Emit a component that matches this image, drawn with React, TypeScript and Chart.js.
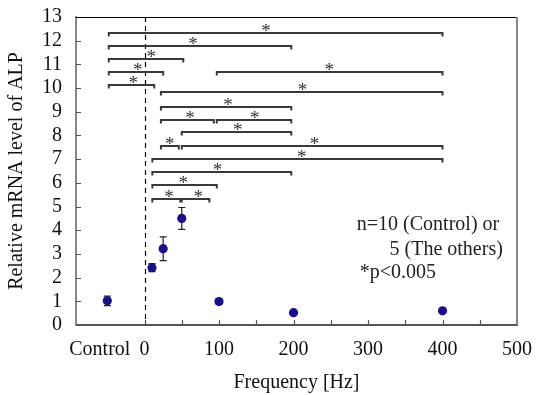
import React, { useEffect, useRef } from "react";
import { Chart, registerables } from "chart.js";

Chart.register(...registerables);

// ---- data ----
const frequencies = [-50, 10, 25, 50, 100, 200, 400]; // -50 = Control position
const means = [1.02, 2.42, 3.22, 4.5, 0.99, 0.52, 0.6];
const errors = [0.2, 0.17, 0.5, 0.46, 0.1, 0.05, 0.05];

const xTickValues = [-60, 0, 100, 200, 300, 400, 500];
const xTickLabels = ["Control", "0", "100", "200", "300", "400", "500"];
const xMinorTicks = [0, 50, 100, 150, 200, 250, 300, 350, 400, 450, 500];
const yTickValues = [0, 1, 2, 3, 4, 5, 6, 7, 8, 9, 10, 11, 12, 13];

// significance brackets (data coordinates)
const bracketStart = [-48, -48, -48, -48, -48, 97, 22, 22, 22, 97, 50, 22, 50, 10.5, 10.5, 10.5, 10.5, 50];
const bracketEnd = [400, 197, 52, 25, 13, 400, 400, 197, 93, 197, 197, 46, 400, 400, 197, 97, 48, 87];
const bracketLevel = [12.31, 11.79, 11.23, 10.69, 10.13, 10.69, 9.85, 9.21, 8.65, 8.65, 8.13, 7.55, 7.55, 7.0, 6.45, 5.92, 5.3, 5.3];
const starX = [163, 65, 9, -9, -15, 248, 212, 112, 61, 148, 125, 34, 228, 211, 98, 52, 33, 72];

const noteLines = ["n=10 (Control) or", "5 (The others)", "*p<0.005"];
const noteX = [285, 481, 289];
const noteY = [4.22, 3.17, 2.2];
const noteAlign = ["left", "right", "left"];

const FONT = "Liberation Serif, Times New Roman, serif";
const FS = 20;

const overlayPlugin = {
  id: "overlay",
  beforeDatasetsDraw(chart: any) {
    const { ctx, chartArea } = chart;
    const xs = chart.scales.x;
    const ys = chart.scales.y;
    ctx.save();
    // dashed line at 0 Hz
    ctx.strokeStyle = "#000";
    ctx.lineWidth = 1.2;
    ctx.setLineDash([5, 4]);
    const x0 = Math.round(xs.getPixelForValue(0)) + 0.5;
    ctx.beginPath();
    ctx.moveTo(x0, chartArea.top);
    ctx.lineTo(x0, chartArea.bottom);
    ctx.stroke();
    ctx.setLineDash([]);
    // error bars
    ctx.strokeStyle = "#222";
    ctx.lineWidth = 1.2;
    for (let i = 0; i < frequencies.length; i++) {
      const px = xs.getPixelForValue(frequencies[i]);
      const yt = ys.getPixelForValue(means[i] + errors[i]);
      const yb = ys.getPixelForValue(means[i] - errors[i]);
      ctx.beginPath();
      ctx.moveTo(px, yt);
      ctx.lineTo(px, yb);
      ctx.moveTo(px - 3.5, yt);
      ctx.lineTo(px + 3.5, yt);
      ctx.moveTo(px - 3.5, yb);
      ctx.lineTo(px + 3.5, yb);
      ctx.stroke();
    }
    ctx.restore();
  },
  afterDatasetsDraw(chart: any) {
    const { ctx, chartArea } = chart;
    const xs = chart.scales.x;
    const ys = chart.scales.y;
    ctx.save();
    // inner tick marks
    ctx.strokeStyle = "#555";
    ctx.lineWidth = 1.2;
    ctx.beginPath();
    for (const v of xMinorTicks) {
      const px = Math.round(xs.getPixelForValue(v)) + 0.5;
      ctx.moveTo(px, chartArea.bottom);
      ctx.lineTo(px, chartArea.bottom - 5);
    }
    for (const v of yTickValues) {
      const py = Math.round(ys.getPixelForValue(v)) + 0.5;
      ctx.moveTo(chartArea.left, py);
      ctx.lineTo(chartArea.left + 5, py);
    }
    ctx.stroke();
    // top and right borders
    ctx.strokeStyle = "#000";
    ctx.lineWidth = 1.2;
    ctx.beginPath();
    ctx.moveTo(chartArea.left, chartArea.top + 0.5);
    ctx.lineTo(chartArea.right, chartArea.top + 0.5);
    ctx.stroke();
    ctx.strokeStyle = "#888";
    ctx.lineWidth = 2;
    ctx.beginPath();
    ctx.moveTo(chartArea.right, chartArea.top);
    ctx.lineTo(chartArea.right, chartArea.bottom);
    ctx.stroke();
    // brackets
    ctx.strokeStyle = "#3a3a3a";
    ctx.lineWidth = 2;
    for (let i = 0; i < bracketLevel.length; i++) {
      const x1 = xs.getPixelForValue(bracketStart[i]);
      const x2 = xs.getPixelForValue(bracketEnd[i]);
      const py = Math.round(ys.getPixelForValue(bracketLevel[i]));
      ctx.beginPath();
      ctx.moveTo(x1, py + 3.5);
      ctx.lineTo(x1, py);
      ctx.lineTo(x2, py);
      ctx.lineTo(x2, py + 3.5);
      ctx.stroke();
    }
    // stars
    ctx.fillStyle = "#333";
    ctx.font = "19px " + FONT;
    ctx.textAlign = "center";
    ctx.textBaseline = "alphabetic";
    for (let i = 0; i < starX.length; i++) {
      const px = xs.getPixelForValue(starX[i]);
      const py = ys.getPixelForValue(bracketLevel[i]);
      ctx.fillText("*", px, py + 4);
    }
    // notes
    ctx.font = FS + "px " + FONT;
    ctx.fillStyle = "#222";
    ctx.textBaseline = "middle";
    for (let i = 0; i < noteLines.length; i++) {
      ctx.textAlign = noteAlign[i] as CanvasTextAlign;
      ctx.fillText(noteLines[i], xs.getPixelForValue(noteX[i]), ys.getPixelForValue(noteY[i]));
    }
    ctx.restore();
  },
};

const zeroPad = (s: any) => {
  s.paddingLeft = 0;
  s.paddingRight = 0;
  s.paddingTop = 0;
  s.paddingBottom = 0;
};

export default function App() {
  const canvasRef = useRef<HTMLCanvasElement | null>(null);
  useEffect(() => {
    document.body.style.margin = "0";
    const canvas = canvasRef.current;
    if (!canvas) return;
    const chart = new Chart(canvas, {
      type: "scatter",
      data: {
        datasets: [
          {
            data: frequencies.map((f, i) => ({ x: f, y: means[i] })),
            pointRadius: 4.6,
            pointBackgroundColor: "#1c0d88",
            pointBorderWidth: 0,
            showLine: false,
          },
        ],
      },
      options: {
        responsive: false,
        animation: false,
        devicePixelRatio: 1,
        layout: { padding: { left: 0, right: 19, top: 17, bottom: 0 } },
        plugins: { legend: { display: false }, tooltip: { enabled: false } },
        scales: {
          x: {
            type: "linear",
            min: -92,
            max: 500,
            afterBuildTicks: (s: any) => {
              s.ticks = xTickValues.map((v) => ({ value: v }));
            },
            afterFit: (s: any) => {
              s.height = 70;
              zeroPad(s);
            },
            grid: { display: false, drawTicks: false },
            border: { display: true, color: "#555", width: 2 },
            ticks: {
              autoSkip: false,
              maxRotation: 0,
              padding: 13,
              color: "#111",
              font: { family: FONT, size: FS },
              callback: (_v: any, i: number) => xTickLabels[i],
            },
            title: {
              display: true,
              text: "Frequency [Hz]",
              color: "#111",
              font: { family: FONT, size: FS },
              padding: { top: 0, bottom: 0 },
            },
          },
          y: {
            min: 0,
            max: 13,
            afterBuildTicks: (s: any) => {
              s.ticks = yTickValues.map((v) => ({ value: v }));
            },
            afterFit: (s: any) => {
              s.width = 76;
              zeroPad(s);
            },
            grid: { display: false, drawTicks: false },
            border: { display: true, color: "#888", width: 2 },
            ticks: {
              autoSkip: false,
              padding: 14,
              color: "#111",
              font: { family: FONT, size: FS },
            },
            title: {
              display: true,
              text: "Relative mRNA level of ALP",
              color: "#111",
              font: { family: FONT, size: FS },
              padding: { top: 5, bottom: 0 },
            },
          },
        },
      },
      plugins: [overlayPlugin],
    } as any);
    return () => chart.destroy();
  }, []);
  return (
    <div style={{ width: 536, height: 395 }}>
      <canvas ref={canvasRef} width={536} height={395} style={{ display: "block" }} />
    </div>
  );
}
